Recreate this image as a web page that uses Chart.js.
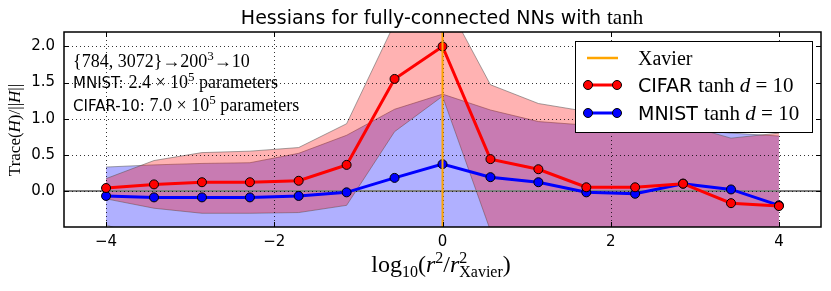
<!DOCTYPE html>
<html>
<head>
<meta charset="utf-8">
<script src="https://cdn.jsdelivr.net/npm/chart.js@4.4.1/dist/chart.umd.min.js"></script>
<style>
    body { margin: 0; background: #fff; }
    #wrap { width: 831px; height: 291px; }
</style>
</head>
<body>
<div id="wrap"><canvas id="chart" width="831" height="291"></canvas></div>
<script>
// log10(r^2 / r^2_Xavier) sample points
const logRatio = [-4, -3.43, -2.86, -2.29, -1.71, -1.14, -0.57, 0, 0.57, 1.14, 1.71, 2.29, 2.86, 3.43, 4];

// Trace(H)/||H|| means
const cifarMean = [0.04, 0.09, 0.12, 0.12, 0.14, 0.36, 1.55, 2.00, 0.44, 0.30, 0.05, 0.05, 0.10, -0.17, -0.21];
const mnistMean = [-0.07, -0.09, -0.09, -0.09, -0.07, -0.02, 0.18, 0.37, 0.19, 0.12, -0.02, -0.04, 0.10, 0.02, -0.20];

// shaded spread
const cifarHigh = [0.17, 0.42, 0.53, 0.55, 0.60, 0.93, 2.32, 2.71, 1.47, 1.21, 1.10, 1.00, 0.92, 0.73, 0.80];
const cifarLow = [-0.11, -0.24, -0.31, -0.31, -0.30, -0.20, 0.82, 1.31, -0.55, -0.70, -0.70, -0.70, -0.70, -0.70, -0.70];
const mnistHigh = [0.33, 0.36, 0.38, 0.39, 0.52, 0.77, 1.13, 1.34, 1.12, 0.96, 0.91, 0.88, 0.85, 0.80, 0.76];
const mnistLow = [-0.47, -0.70, -0.70, -0.70, -0.70, -0.70, -0.70, -0.70, -0.70, -0.70, -0.70, -0.70, -0.70, -0.70, -0.70];

const xTicks = [-4, -2, 0, 2, 4];
const yTicks = [0, 0.5, 1.0, 1.5, 2.0];
const xavierX = 0;

const SANS = 'DejaVu Sans';
const SERIF = 'Liberation Serif';

const pts = arr => arr.map((v, i) => ({ x: logRatio[i], y: v }));

function drawRich(ctx, parts, x, y, align) {
    let total = 0;
    parts.forEach(p => {
        ctx.font = p.f;
        p.w = ctx.measureText(p.t).width;
        if (!p.stay) total += p.w;
    });
    let cx = align === 'center' ? x - total / 2 : x;
    parts.forEach(p => {
        ctx.font = p.f;
        ctx.fillText(p.t, cx, y + (p.dy || 0));
        if (!p.stay) cx += p.w;
    });
}

function marker(ctx, x, y, color) {
    ctx.beginPath();
    ctx.arc(x, y, 4.5, 0, Math.PI * 2);
    ctx.fillStyle = color;
    ctx.fill();
    ctx.lineWidth = 1;
    ctx.strokeStyle = '#000';
    ctx.stroke();
}

const decorations = {
    id: 'decorations',
    beforeDatasetDraw(chart, args) {
        // zero line + dotted grid sit above the shaded bands, below the curves
        if (chart.data.datasets[args.index].label !== 'MNIST') return;
        const { ctx, chartArea: a, scales: { x, y } } = chart;
        ctx.save();
        const y0 = y.getPixelForValue(0);
        ctx.strokeStyle = '#808080';
        ctx.lineWidth = 2;
        ctx.beginPath();
        ctx.moveTo(a.left, y0);
        ctx.lineTo(a.right, y0);
        ctx.stroke();

        ctx.strokeStyle = 'rgba(0,0,0,0.8)';
        ctx.lineWidth = 1;
        ctx.setLineDash([1, 3]);
        xTicks.forEach(v => {
            const px = Math.round(x.getPixelForValue(v)) + 0.5;
            ctx.beginPath();
            ctx.moveTo(px, a.top);
            ctx.lineTo(px, a.bottom);
            ctx.stroke();
        });
        yTicks.forEach(v => {
            const py = Math.round(y.getPixelForValue(v)) + 0.5;
            ctx.beginPath();
            ctx.moveTo(a.left, py);
            ctx.lineTo(a.right, py);
            ctx.stroke();
        });
        ctx.restore();
    },
    afterDatasetsDraw(chart) {
        const { ctx, chartArea: a, scales: { x } } = chart;
        ctx.save();
        const px = x.getPixelForValue(xavierX);
        ctx.strokeStyle = '#FFA500';
        ctx.lineWidth = 2;
        ctx.beginPath();
        ctx.moveTo(px, a.top);
        ctx.lineTo(px, a.bottom);
        ctx.stroke();
        ctx.restore();
    },
    afterDraw(chart) {
        const { ctx, chartArea: a, scales: { x, y } } = chart;
        ctx.save();

        // frame and inward ticks
        ctx.strokeStyle = '#000';
        ctx.lineWidth = 1.5;
        ctx.strokeRect(a.left, a.top, a.right - a.left, a.bottom - a.top);
        ctx.lineWidth = 1;
        xTicks.forEach(v => {
            const px = Math.round(x.getPixelForValue(v)) + 0.5;
            ctx.beginPath();
            ctx.moveTo(px, a.top); ctx.lineTo(px, a.top + 5);
            ctx.moveTo(px, a.bottom); ctx.lineTo(px, a.bottom - 5);
            ctx.stroke();
        });
        yTicks.forEach(v => {
            const py = Math.round(y.getPixelForValue(v)) + 0.5;
            ctx.beginPath();
            ctx.moveTo(a.left, py); ctx.lineTo(a.left + 5, py);
            ctx.moveTo(a.right, py); ctx.lineTo(a.right - 5, py);
            ctx.stroke();
        });

        ctx.fillStyle = '#000';
        ctx.textBaseline = 'alphabetic';

        // title
        drawRich(ctx, [
            { t: 'Hessians for fully-connected NNs with ', f: `19px "${SANS}"` },
            { t: 'tanh', f: `21px "${SERIF}"` }
        ], 442, 24, 'center');

        // x axis title
        drawRich(ctx, [
            { t: 'log', f: `24px "${SERIF}"` },
            { t: '10', f: `16px "${SERIF}"`, dy: 5 },
            { t: '(', f: `24px "${SERIF}"` },
            { t: 'r', f: `italic 24px "${SERIF}"` },
            { t: '2', f: `16px "${SERIF}"`, dy: -9 },
            { t: '/', f: `24px "${SERIF}"` },
            { t: 'r', f: `italic 24px "${SERIF}"` },
            { t: '2', f: `16px "${SERIF}"`, dy: -9, stay: true },
            { t: 'Xavier', f: `16px "${SERIF}"`, dy: 5 },
            { t: ')', f: `24px "${SERIF}"` }
        ], 441, 272, 'center');

        // y axis title
        ctx.save();
        ctx.translate(20, 130);
        ctx.rotate(-Math.PI / 2);
        drawRich(ctx, [
            { t: 'Trace(', f: `17px "${SERIF}"` },
            { t: 'H', f: `italic 17px "${SERIF}"` },
            { t: ')/||', f: `17px "${SERIF}"` },
            { t: 'H', f: `italic 17px "${SERIF}"` },
            { t: '||', f: `17px "${SERIF}"` }
        ], 0, 0, 'center');
        ctx.restore();

        // notes in the top-left corner
        drawRich(ctx, [
            { t: '{784, 3072}\u2192200', f: `18px "${SERIF}"` },
            { t: '3', f: `13px "${SERIF}"`, dy: -7 },
            { t: '\u219210', f: `18px "${SERIF}"` }
        ], 73, 67);
        drawRich(ctx, [
            { t: 'MNIST: ', f: `15px "${SANS}"` },
            { t: '2.4 \u00d7 10', f: `18px "${SERIF}"` },
            { t: '5', f: `13px "${SERIF}"`, dy: -7 },
            { t: ' parameters', f: `18px "${SERIF}"` }
        ], 73, 88);
        drawRich(ctx, [
            { t: 'CIFAR-10: ', f: `15px "${SANS}"` },
            { t: '7.0 \u00d7 10', f: `18px "${SERIF}"` },
            { t: '5', f: `13px "${SERIF}"`, dy: -7 },
            { t: ' parameters', f: `18px "${SERIF}"` }
        ], 73, 111);

        // legend
        ctx.fillStyle = '#fff';
        ctx.fillRect(575, 41, 237, 91);
        ctx.strokeStyle = '#000';
        ctx.lineWidth = 1;
        ctx.strokeRect(575.5, 41.5, 237, 91);

        ctx.strokeStyle = '#FFA500';
        ctx.lineWidth = 2.5;
        ctx.beginPath(); ctx.moveTo(587, 58); ctx.lineTo(618, 58); ctx.stroke();

        [['CIFAR', 'red', 85], ['MNIST', 'blue', 113]].forEach(([name, col, ly]) => {
            ctx.strokeStyle = col;
            ctx.lineWidth = 3;
            ctx.beginPath(); ctx.moveTo(588, ly); ctx.lineTo(617, ly); ctx.stroke();
            marker(ctx, 588, ly, col);
            marker(ctx, 617, ly, col);
        });

        ctx.fillStyle = '#000';
        drawRich(ctx, [{ t: 'Xavier', f: `20px "${SERIF}"` }], 638, 65);
        ['CIFAR', 'MNIST'].forEach((name, i) => {
            drawRich(ctx, [
                { t: name + ' ', f: `19px "${SANS}"` },
                { t: 'tanh ', f: `21px "${SERIF}"` },
                { t: 'd', f: `italic 21px "${SERIF}"` },
                { t: ' = 10', f: `21px "${SERIF}"` }
            ], 638, 92 + i * 28);
        });
        ctx.restore();
    }
};

const ctx = document.getElementById('chart').getContext('2d');
const chart = new Chart(ctx, {
    type: 'line',
    data: {
        datasets: [{
            label: 'CIFAR',
            data: pts(cifarMean),
            borderColor: 'red',
            backgroundColor: 'red',
            borderWidth: 3,
            pointRadius: 4.5,
            pointBorderColor: '#000',
            pointBorderWidth: 1,
            pointBackgroundColor: 'red',
            fill: false,
            order: 1
        }, {
            label: 'MNIST',
            data: pts(mnistMean),
            borderColor: 'blue',
            backgroundColor: 'blue',
            borderWidth: 3,
            pointRadius: 4.5,
            pointBorderColor: '#000',
            pointBorderWidth: 1,
            pointBackgroundColor: 'blue',
            fill: false,
            order: 2
        }, {
            label: 'CIFAR high',
            data: pts(cifarHigh),
            borderColor: 'rgba(90,90,90,0.55)',
            borderWidth: 1,
            pointRadius: 0,
            backgroundColor: 'rgba(255,0,0,0.3)',
            fill: '+1',
            order: 4
        }, {
            label: 'CIFAR low',
            data: pts(cifarLow),
            borderColor: 'rgba(90,90,90,0.55)',
            borderWidth: 1,
            pointRadius: 0,
            fill: false,
            order: 4
        }, {
            label: 'MNIST high',
            data: pts(mnistHigh),
            borderColor: 'rgba(90,90,90,0.55)',
            borderWidth: 1,
            pointRadius: 0,
            backgroundColor: 'rgba(0,0,255,0.31)',
            fill: '+1',
            order: 5
        }, {
            label: 'MNIST low',
            data: pts(mnistLow),
            borderColor: 'rgba(90,90,90,0.55)',
            borderWidth: 1,
            pointRadius: 0,
            fill: false,
            order: 5
        }]
    },
    options: {
        responsive: false,
        animation: false,
        devicePixelRatio: 1,
        layout: { padding: { top: 32, right: 10, left: 0, bottom: 0 } },
        plugins: {
            legend: { display: false },
            title: { display: false },
            tooltip: { enabled: false }
        },
        scales: {
            x: {
                type: 'linear',
                min: -4.5,
                max: 4.5,
                afterBuildTicks: s => { s.ticks = xTicks.map(v => ({ value: v })); },
                afterFit: s => { s.height = 64; },
                grid: { display: false, drawTicks: false },
                border: { display: false },
                ticks: {
                    padding: 6,
                    color: '#000',
                    font: { family: SANS, size: 15 },
                    callback: v => (v < 0 ? '\u2212' + Math.abs(v) : String(v))
                }
            },
            y: {
                min: -0.5,
                max: 2.2,
                afterBuildTicks: s => { s.ticks = yTicks.map(v => ({ value: v })); },
                afterFit: s => { s.width = 64; },
                grid: { display: false, drawTicks: false },
                border: { display: false },
                ticks: {
                    padding: 9,
                    color: '#000',
                    font: { family: SANS, size: 15 },
                    callback: v => v.toFixed(1)
                }
            }
        }
    },
    plugins: [decorations]
});
</script>
</body>
</html>
